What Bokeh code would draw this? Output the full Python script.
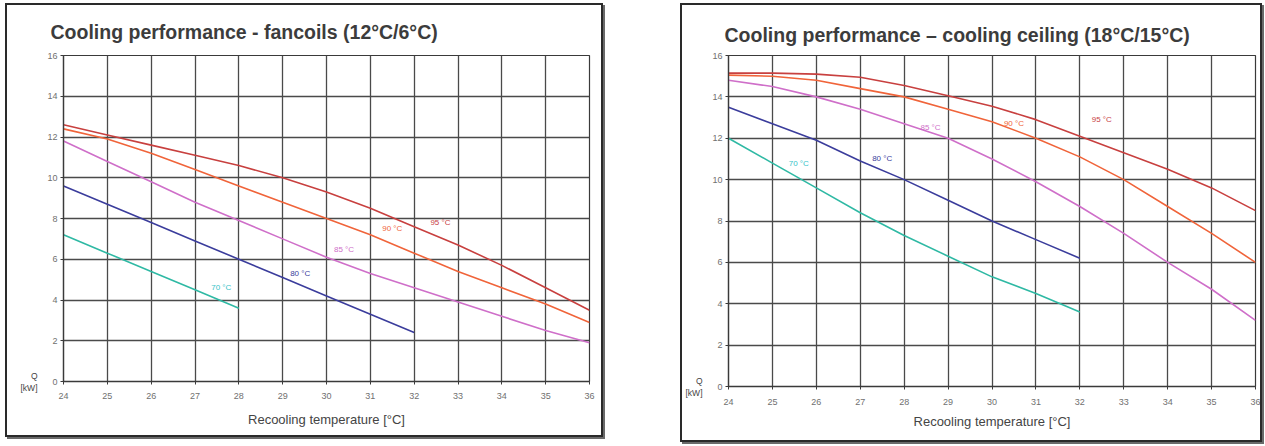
from bokeh.plotting import figure
from bokeh.models import Spacer, LinearAxis, FixedTicker
from bokeh.layouts import row, column
from bokeh.embed import file_html
from bokeh.resources import INLINE
from bokeh.core.properties import value

# ---------------- data ----------------
temps = [24, 25, 26, 27, 28, 29, 30, 31, 32, 33, 34, 35, 36]
x_ticks = [24, 25, 26, 27, 28, 29, 30, 31, 32, 33, 34, 35, 36]
y_ticks = [0, 2, 4, 6, 8, 10, 12, 14, 16]
series_names = ["70 °C", "80 °C", "85 °C", "90 °C", "95 °C"]
series_colors = ["#2fb9a4", "#3b3d9c", "#cf6fc9", "#f0643a", "#c8403f"]
label_colors = ["#35c3c8", "#3b3d9c", "#cf6fc9", "#f0643a", "#c8403f"]

# fancoils (12°C/6°C)
fc_70 = [7.2, 6.3, 5.4, 4.5, 3.6]                       # 24..28
fc_80 = [9.6, 8.7, 7.8, 6.9, 6.0, 5.1, 4.2, 3.3, 2.4]   # 24..32
fc_85 = [11.8, 10.8, 9.8, 8.8, 7.9, 7.0, 6.1, 5.3, 4.6, 3.9, 3.2, 2.5, 1.9]
fc_90 = [12.4, 11.9, 11.2, 10.4, 9.6, 8.8, 8.0, 7.2, 6.3, 5.4, 4.6, 3.8, 2.9]
fc_95 = [12.6, 12.1, 11.6, 11.1, 10.6, 10.0, 9.3, 8.5, 7.6, 6.7, 5.7, 4.6, 3.5]
fc_label_x = [27.6, 29.4, 30.4, 31.5, 32.6]
fc_label_y = [4.6, 5.3, 6.5, 7.5, 7.8]

# cooling ceiling (18°C/15°C)
cc_70 = [12.0, 10.8, 9.6, 8.4, 7.3, 6.3, 5.3, 4.5, 3.6]      # 24..32
cc_80 = [13.5, 12.7, 11.9, 10.9, 10.0, 9.0, 8.0, 7.1, 6.2]   # 24..32
cc_85 = [14.8, 14.5, 14.0, 13.4, 12.7, 12.0, 11.0, 9.9, 8.7, 7.4, 6.0, 4.7, 3.2]
cc_90 = [15.05, 15.0, 14.8, 14.4, 14.0, 13.4, 12.8, 12.0, 11.1, 10.0, 8.7, 7.4, 6.0]
cc_95 = [15.15, 15.15, 15.1, 14.95, 14.55, 14.05, 13.55, 12.9, 12.1, 11.3, 10.5, 9.6, 8.5]
cc_label_x = [25.6, 27.5, 28.6, 30.5, 32.5]
cc_label_y = [10.8, 11.0, 12.5, 12.7, 12.9]

FONT = "Liberation Sans"


def make_chart(title, series, lx, ly, width, height, mbl, mbr, mbt, mbb,
               title_offset, title_standoff, xstand, xlabstand):
    p = figure(width=width, height=height, x_range=(24, 36), y_range=(0, 16),
               output_backend="svg", toolbar_location=None,
               min_border_left=mbl, min_border_right=mbr,
               min_border_top=mbt, min_border_bottom=mbb,
               background_fill_color="white", border_fill_color="white")
    p.styles = {"border": "2px solid #2a2a2a", "box-shadow": "2px 2px 0 #6a6a6a"}
    p.title.text = title
    p.title.text_font = FONT
    p.title.text_font_size = "19.5px"
    p.title.text_font_style = "bold"
    p.title.text_color = "#3c3c3c"
    p.title.align = "left"
    p.title.offset = title_offset
    p.title.standoff = title_standoff

    p.outline_line_color = "#3a3a3a"
    p.outline_line_width = 1.2

    p.xaxis.ticker = x_ticks
    p.yaxis.ticker = y_ticks
    p.xgrid.ticker = x_ticks
    p.ygrid.ticker = y_ticks
    for g in (p.xgrid, p.ygrid):
        g.grid_line_color = "#4a4a4a"
        g.grid_line_width = 1.3
        g.grid_line_alpha = 1.0

    for ax in (p.xaxis, p.yaxis):
        ax.axis_line_color = "#3a3a3a"
        ax.axis_line_width = 1.3
        ax.major_tick_line_color = "#3a3a3a"
        ax.major_tick_out = 3
        ax.major_tick_in = 0
        ax.minor_tick_line_color = None
        ax.major_label_text_font = FONT
        ax.major_label_text_font_size = "9px"
        ax.major_label_text_color = "#707070"
    p.yaxis.major_label_standoff = 3
    p.xaxis.major_label_standoff = xstand
    p.xaxis.axis_label = "Recooling temperature [°C]"
    p.xaxis.axis_label_text_font = FONT
    p.xaxis.axis_label_text_font_size = "13px"
    p.xaxis.axis_label_text_font_style = "normal"
    p.xaxis.axis_label_text_color = "#444444"
    p.xaxis.axis_label_standoff = xlabstand

    # "Q [kW]" unit label next to the zero tick
    qaxis = LinearAxis(ticker=FixedTicker(ticks=[0], minor_ticks=[]),
                       major_label_overrides={0: "Q\n[kW]"},
                       axis_line_color=None, major_tick_line_color=None,
                       minor_tick_line_color=None, major_label_standoff=1,
                       major_label_text_font=FONT,
                       major_label_text_font_size="8.5px",
                       major_label_text_color="#444444")
    p.add_layout(qaxis, "left")

    for vals, col in zip(series, series_colors):
        p.line(temps[:len(vals)], vals, line_color=col, line_width=1.6)

    p.text(x=lx, y=ly, text=series_names, text_color=label_colors,
           text_font=value(FONT), text_font_size="8px",
           text_align="center", text_baseline="middle")
    return p


p1 = make_chart("Cooling performance - fancoils (12°C/6°C)",
                [fc_70, fc_80, fc_85, fc_90, fc_95], fc_label_x, fc_label_y,
                width=598, height=434, mbl=56, mbr=16, mbt=50, mbb=58,
                title_offset=-13, title_standoff=25, xstand=8, xlabstand=10)
p2 = make_chart("Cooling performance – cooling ceiling (18°C/15°C)",
                [cc_70, cc_80, cc_85, cc_90, cc_95], cc_label_x, cc_label_y,
                width=582, height=439, mbl=45, mbr=9, mbt=47, mbb=46,
                title_offset=-4, title_standoff=20, xstand=9, xlabstand=6)

layout = column(Spacer(height=3),
                row(Spacer(width=5), p1, Spacer(width=77), p2))
open("out.html", "w").write(file_html(layout, INLINE))
